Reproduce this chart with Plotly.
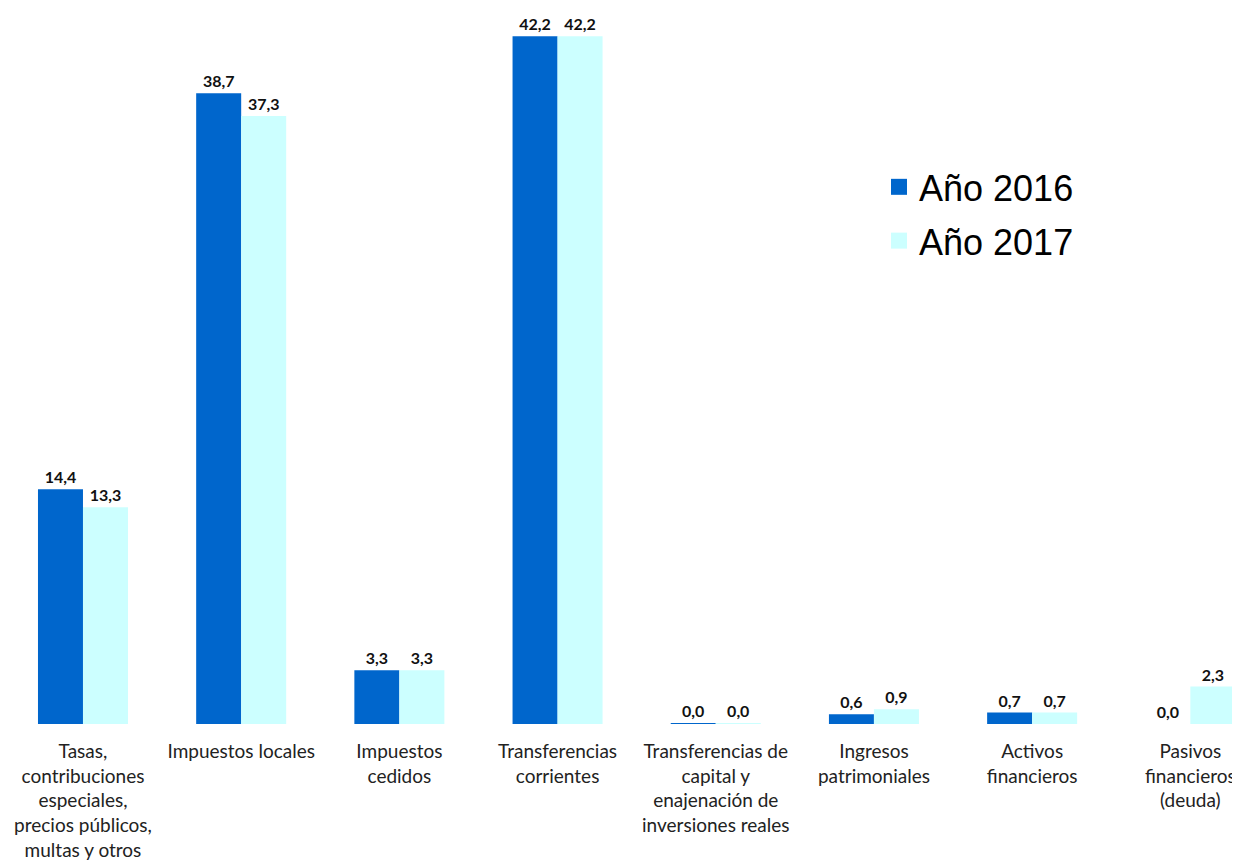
import plotly.graph_objects as go

categories = [
    "Tasas,<br>contribuciones<br>especiales,<br>precios públicos,<br>multas y otros",
    "Impuestos locales",
    "Impuestos<br>cedidos",
    "Transferencias<br>corrientes",
    "Transferencias de<br>capital y<br>enajenación de<br>inversiones reales",
    "Ingresos<br>patrimoniales",
    "Activos<br>financieros",
    "Pasivos<br>financieros<br>(deuda)",
]
values_2016 = [14.4, 38.7, 3.3, 42.2, 0.04, 0.6, 0.7, 0.0]
values_2017 = [13.3, 37.3, 3.3, 42.2, 0.04, 0.9, 0.7, 2.3]
series_names = ["Año 2016", "Año 2017"]
colors = ["#0066CC", "#CCFFFF"]

fig = go.Figure()
for name, vals, col, grp in zip(series_names, [values_2016, values_2017], colors, ["a", "b"]):
    fig.add_trace(go.Bar(
        x=list(range(len(categories))), y=vals, name=name, legendgroup=grp, showlegend=False,
        marker=dict(color=col, line=dict(width=0)),
        texttemplate="%{y:.1f}", textposition="outside", cliponaxis=False,
        textfont=dict(family="Lato, Open Sans, sans-serif", size=16, color="#111111", weight="bold"),
    ))
    # legend entry with a larger square swatch
    fig.add_trace(go.Scatter(
        x=[None], y=[None], mode="markers", name=name, legendgroup=grp,
        marker=dict(symbol="square", size=20, color=col),
    ))

fig.update_layout(
    width=1232, height=858,
    paper_bgcolor="white", plot_bgcolor="white",
    margin=dict(l=0, r=0, t=0, b=142),
    barmode="group", bargap=0.431, bargroupgap=0,
    separators=",.",
    showlegend=True,
    legend=dict(x=0.707, y=0.792, xanchor="left", yanchor="top",
                font=dict(family="Arial, Liberation Sans, sans-serif", size=36, color="#000000"),
                bgcolor="rgba(0,0,0,0)", tracegroupgap=4, itemwidth=30, itemsizing="trace"),
    xaxis=dict(range=[-0.474, 7.314], tickmode="array", tickvals=list(range(len(categories))),
               ticktext=categories, showgrid=False, zeroline=False, showline=False,
               ticks="outside", ticklen=10, tickcolor="rgba(0,0,0,0)",
               tickfont=dict(family="Lato, Open Sans, sans-serif", size=19, color="#222222")),
    yaxis=dict(range=[0, 43.93], visible=False, showgrid=False, zeroline=False),
)

fig.write_html("out.html")
